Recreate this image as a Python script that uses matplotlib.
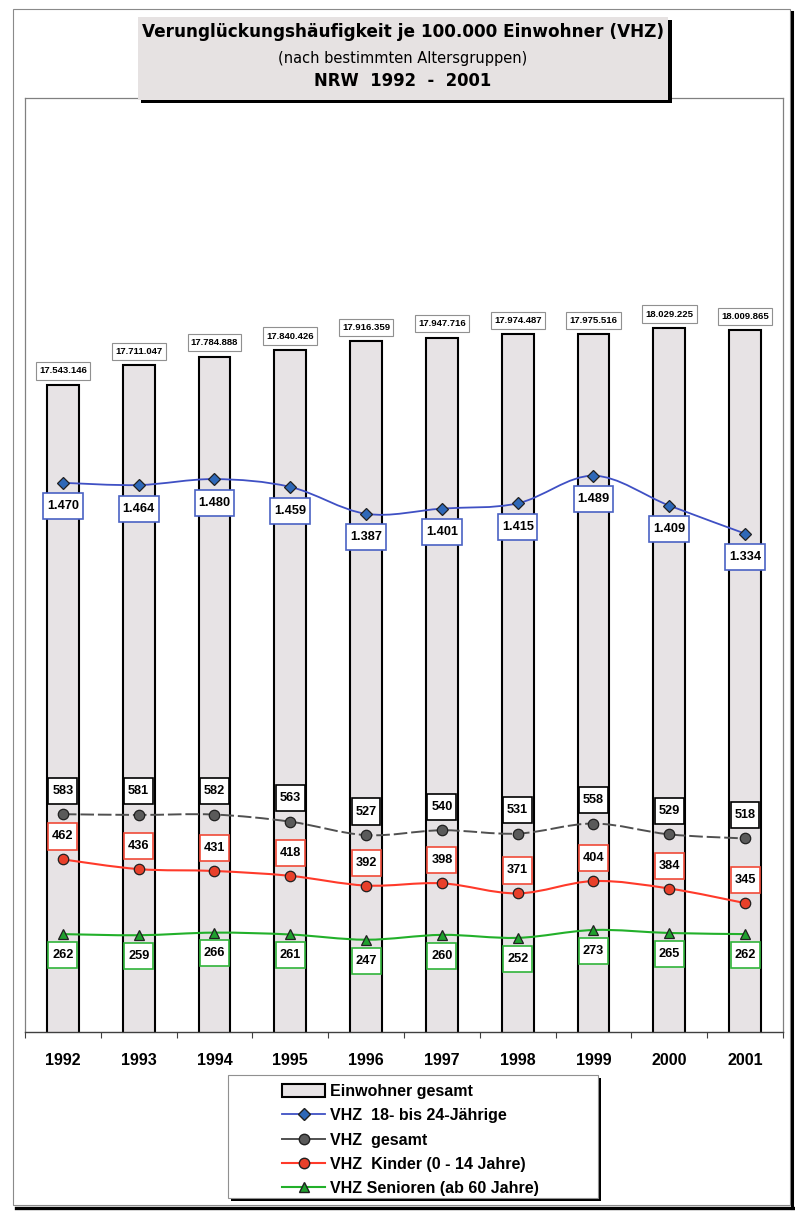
import matplotlib
matplotlib.use("Agg")
import matplotlib.pyplot as plt
from matplotlib.patches import Rectangle, Patch, PathPatch
from matplotlib.lines import Line2D
from matplotlib.path import Path
import numpy as np

plt.rcParams['font.family'] = ['Liberation Sans', 'DejaVu Sans']

# ---------------- data ----------------
years = ['1992', '1993', '1994', '1995', '1996', '1997', '1998', '1999', '2000', '2001']
einwohner = [17543146, 17711047, 17784888, 17840426, 17916359,
             17947716, 17974487, 17975516, 18029225, 18009865]
vhz_18_24 = [1470, 1464, 1480, 1459, 1387, 1401, 1415, 1489, 1409, 1334]
vhz_gesamt = [583, 581, 582, 563, 527, 540, 531, 558, 529, 518]
vhz_kinder = [462, 436, 431, 418, 392, 398, 371, 404, 384, 345]
vhz_senioren = [262, 259, 266, 261, 247, 260, 252, 273, 265, 262]

title1 = 'Verunglückungshäufigkeit je 100.000 Einwohner (VHZ)'
title2 = '(nach bestimmten Altersgruppen)'
title3 = 'NRW  1992  -  2001'
legend_labels = ['Einwohner gesamt', 'VHZ  18- bis 24-Jährige', 'VHZ  gesamt',
                 'VHZ  Kinder (0 - 14 Jahre)', 'VHZ Senioren (ab 60 Jahre)']

# ---------------- styles ----------------
W, H = 795, 1212
bar_fc = '#e7e3e5'
c_blue_line, c_blue_mk, c_blue_box = '#3f50c4', '#2e68b8', '#4a62c4'
c_grey_line, c_grey_mk = '#505050', '#5a5a5a'
c_red_line, c_red_mk, c_red_box = '#ff3a2a', '#e8402a', '#f04a38'
c_green_line, c_green_mk, c_green_box = '#22b02a', '#20a02e', '#30b43a'

fig = plt.figure(figsize=(W / 100, H / 100), dpi=100)
fig.patch.set_facecolor('white')


def fx(px):
    return px / W


def fy(py):
    return 1 - py / H


def rect_px(x0, y0, x1, y1, **kw):
    r = Rectangle((fx(x0), fy(y1)), fx(x1) - fx(x0), fy(y0) - fy(y1),
                  transform=fig.transFigure, **kw)
    fig.add_artist(r)
    return r


def hv_box(padx, pady):
    def f(x0, y0, width, height, mutation_size):
        px = padx * mutation_size
        py = pady * mutation_size
        a0, b0 = x0 - px, y0 - py
        a1, b1 = x0 + width + px, y0 + height + py
        return Path([(a0, b0), (a1, b0), (a1, b1), (a0, b1), (a0, b0)], closed=True)
    return f


# outer frame
rect_px(13, 9, 790, 1205, fill=False, ec='#8a8a8a', lw=0.8, zorder=1)
fig.add_artist(Line2D([fx(792), fx(792)], [fy(12), fy(1208)], transform=fig.transFigure,
                      color='black', lw=2.2, zorder=1))
fig.add_artist(Line2D([fx(16), fx(793)], [fy(1208), fy(1208)], transform=fig.transFigure,
                      color='black', lw=2.4, zorder=1))

# ---------------- axes ----------------
ax = fig.add_axes([fx(25), fy(1032), fx(783) - fx(25), fy(98) - fy(1032)])
x = np.arange(len(years))
ax.bar(x, einwohner, width=0.42, color=bar_fc, edgecolor='black', linewidth=1.5, zorder=2)
ax.set_xlim(-0.5, len(years) - 0.5)
ax.set_ylim(12e6, 20e6)
ax.set_yticks([])
for s in ['left', 'top', 'right']:
    ax.spines[s].set_color('#808080')
    ax.spines[s].set_linewidth(0.9)
ax.spines['bottom'].set_color('#404040')
ax.spines['bottom'].set_linewidth(1.0)
ax.set_xticks(x)
ax.set_xticklabels(years, fontsize=11.5, fontweight='bold')
ax.tick_params(axis='x', which='major', length=0, pad=15)
ax.set_xticks(np.arange(-0.5, len(years) + 0.5, 1), minor=True)
ax.tick_params(axis='x', which='minor', length=4, width=0.8, color='#404040', direction='out')

for i, v in enumerate(einwohner):
    ax.annotate(f'{v:,}'.replace(',', '.'), xy=(i, v), xytext=(0, 10),
                textcoords='offset points', ha='center', va='center',
                fontsize=6.8, fontweight='bold', zorder=6,
                bbox=dict(boxstyle=hv_box(0.35, 0.45), fc='white', ec='#909090', lw=0.8))

ax2 = ax.twinx()
ax2.set_ylim(0, 2500)
ax2.set_yticks([])
for s in ax2.spines.values():
    s.set_visible(False)


def smooth_path(xs, ys):
    pts = np.column_stack([xs, ys]).astype(float)
    n = len(pts)
    verts = [pts[0]]
    codes = [Path.MOVETO]
    for i in range(n - 1):
        p0 = pts[i - 1] if i > 0 else pts[i]
        p1 = pts[i]
        p2 = pts[i + 1]
        p3 = pts[i + 2] if i + 2 < n else pts[i + 1]
        c1 = p1 + (p2 - p0) / 6.0
        c2 = p2 - (p3 - p1) / 6.0
        verts += [c1, c2, p2]
        codes += [Path.CURVE4] * 3
    return Path(verts, codes)


series = [
    (vhz_18_24, c_blue_line, c_blue_mk, 'D', 6.5, c_blue_box, -17, 1.3, '-'),
    (vhz_gesamt, c_grey_line, c_grey_mk, 'o', 7.5, 'black', 17, 1.4, (0, (7, 2))),
    (vhz_kinder, c_red_line, c_red_mk, 'o', 7.5, c_red_box, 16.5, 1.5, '-'),
    (vhz_senioren, c_green_line, c_green_mk, '^', 7.5, c_green_box, -15, 1.5, '-'),
]

for vals, lc, mc, mk, ms, bc, off, lw, ls in series:
    pp = PathPatch(smooth_path(x, vals), fill=False, ec=lc, lw=lw, ls=ls, zorder=3)
    ax2.add_patch(pp)
    ax2.plot(x, vals, ls='none', marker=mk, ms=ms, mfc=mc, mec='#202020', mew=0.9, zorder=4)
    for i, v in enumerate(vals):
        lab = f'{v:,}'.replace(',', '.')
        ax2.annotate(lab, xy=(i, v), xytext=(0, off), textcoords='offset points',
                     ha='center', va='center', fontsize=9.2, fontweight='bold', zorder=6,
                     bbox=dict(boxstyle=hv_box(0.3, 0.55), fc='white', ec=bc, lw=1.2))

# ---------------- title box ----------------
rect_px(141, 20, 672, 103, fc='black', ec='none', zorder=3)
rect_px(138, 17, 668, 100, fc='#e6e2e2', ec='none', zorder=3)
fig.text(fx(403), fy(32), title1, ha='center', va='center', fontsize=12.2,
         fontweight='bold', family=['DejaVu Sans'], zorder=4)
fig.text(fx(403), fy(59), title2, ha='center', va='center', fontsize=10.5,
         family=['DejaVu Sans'], zorder=4)
fig.text(fx(403), fy(81), title3, ha='center', va='center', fontsize=11.9,
         fontweight='bold', family=['DejaVu Sans'], zorder=4)

# ---------------- legend ----------------
rect_px(231, 1078, 601, 1201, fc='black', ec='none', zorder=3)
rect_px(228, 1075, 598, 1198, fc='white', ec='#909090', lw=0.8, zorder=3)
handles = [
    Patch(facecolor=bar_fc, edgecolor='black', linewidth=1.5),
    Line2D([], [], color=c_blue_line, marker='D', ms=6.5, mfc=c_blue_mk, mec='#202020', lw=1.3),
    Line2D([], [], color=c_grey_line, marker='o', ms=7.5, mfc=c_grey_mk, mec='#202020', lw=1.4),
    Line2D([], [], color=c_red_line, marker='o', ms=7.5, mfc=c_red_mk, mec='#202020', lw=1.5),
    Line2D([], [], color=c_green_line, marker='^', ms=7.5, mfc=c_green_mk, mec='#202020', lw=1.5),
]
leg = fig.legend(handles, legend_labels, loc='upper left',
                 bbox_to_anchor=(fx(282), fy(1084)), frameon=False,
                 prop={'weight': 'bold', 'size': 11.5}, handlelength=2.7,
                 handleheight=0.8, handletextpad=0.3, labelspacing=0.58,
                 borderpad=0, borderaxespad=0)
leg.set_zorder(5)

fig.savefig('out.png', dpi=100, facecolor='white')
